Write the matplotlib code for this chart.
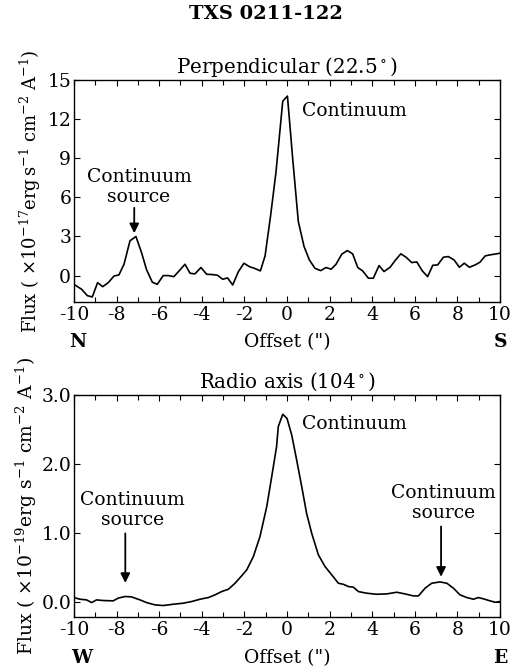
import matplotlib
matplotlib.use("Agg")
import matplotlib.pyplot as plt
import matplotlib.transforms as mtransforms

plt.rcParams["font.family"] = "DejaVu Serif"
plt.rcParams["mathtext.fontset"] = "dejavuserif"
plt.rcParams["axes.unicode_minus"] = False

# Perpendicular slit (22.5 deg)
perp_x = [-10.0, -9.64, -9.37, -9.14, -8.89, -8.65, -8.39, -8.12, -7.89, -7.65,
          -7.37, -7.09, -6.82, -6.59, -6.32, -6.09, -5.81, -5.57, -5.31, -5.02,
          -4.79, -4.55, -4.32, -4.04, -3.77, -3.5, -3.27, -3.02, -2.79, -2.55,
          -2.28, -2.02, -1.77, -1.5, -1.25, -1.03, -0.77, -0.52, -0.2, 0.02,
          0.27, 0.53, 0.8, 1.05, 1.31, 1.58, 1.83, 2.07, 2.3, 2.57,
          2.83, 3.08, 3.32, 3.55, 3.82, 4.05, 4.32, 4.55, 4.84, 5.07,
          5.34, 5.59, 5.85, 6.09, 6.35, 6.6, 6.84, 7.07, 7.34, 7.57,
          7.84, 8.09, 8.32, 8.56, 8.83, 9.06, 9.3, 9.53, 9.77, 10.0]
perp_flux = [-0.67, -1.05, -1.54, -1.64, -0.54, -0.85, -0.54, -0.03, 0.05, 0.87,
             2.67, 3.0, 1.72, 0.44, -0.51, -0.67, 0.0, 0.0, -0.08, 0.44,
             0.87, 0.18, 0.13, 0.62, 0.1, 0.08, 0.03, -0.28, -0.18, -0.72,
             0.31, 0.95, 0.69, 0.54, 0.36, 1.51, 4.6, 7.9, 13.38, 13.77,
             8.9, 4.15, 2.23, 1.2, 0.56, 0.38, 0.62, 0.49, 0.87, 1.64,
             1.92, 1.67, 0.62, 0.36, -0.2, -0.2, 0.77, 0.31, 0.64, 1.15,
             1.67, 1.41, 1.0, 1.05, 0.36, -0.08, 0.79, 0.82, 1.41, 1.46,
             1.2, 0.64, 0.95, 0.64, 0.82, 1.03, 1.51, 1.59, 1.65, 1.72]

# Radio axis slit (104 deg)
radio_x = [-10.0, -9.72, -9.41, -9.17, -8.94, -8.63, -8.16, -7.92, -7.6, -7.3,
           -6.9, -6.59, -6.2, -5.81, -5.34, -4.87, -4.48, -4.08, -3.69, -3.38,
           -3.07, -2.75, -2.44, -2.13, -1.89, -1.58, -1.27, -0.95, -0.72, -0.49,
           -0.41, -0.2, 0.0, 0.22, 0.45, 0.69, 0.92, 1.16, 1.47, 1.78,
           2.1, 2.41, 2.65, 2.88, 3.12, 3.35, 3.74, 4.21, 4.68, 5.15,
           5.54, 5.93, 6.17, 6.48, 6.79, 7.18, 7.5, 7.81, 8.12, 8.44,
           8.75, 8.98, 9.22, 9.53, 9.77, 10.0]
radio_flux = [0.058, 0.034, 0.024, -0.015, 0.024, 0.015, 0.01, 0.05, 0.073, 0.068,
              0.024, -0.015, -0.048, -0.058, -0.039, -0.024, 0.0, 0.034, 0.058, 0.097,
              0.145, 0.179, 0.266, 0.373, 0.46, 0.653, 0.943, 1.38, 1.81, 2.25,
              2.54, 2.72, 2.66, 2.42, 2.06, 1.67, 1.28, 0.99, 0.68, 0.51,
              0.387, 0.266, 0.25, 0.218, 0.208, 0.145, 0.121, 0.106, 0.111, 0.135,
              0.111, 0.082, 0.082, 0.194, 0.266, 0.285, 0.266, 0.194, 0.097, 0.058,
              0.034, 0.058, 0.039, 0.01, -0.01, 0.0]

xticks = [-10, -8, -6, -4, -2, 0, 2, 4, 6, 8, 10]
perp_yticks = [0, 3, 6, 9, 12, 15]
radio_yticks = [0.0, 1.0, 2.0, 3.0]

fig = plt.figure(figsize=(5.32, 6.68), dpi=100)
ax1 = fig.add_axes([0.139, 0.5484, 0.801, 0.3318])
ax2 = fig.add_axes([0.139, 0.0768, 0.801, 0.3319])

fig.text(0.5, 0.979, "TXS 0211-122", ha="center", va="center",
         fontsize=14, fontweight="bold")


def style(ax, yticks, ylabels):
    ax.set_xlim(-10, 10)
    ax.set_xticks(xticks)
    ax.set_xticklabels([str(t) for t in xticks])
    ax.set_xticks(range(-9, 10, 2), minor=True)
    ax.set_yticks(yticks)
    ax.set_yticklabels(ylabels)
    ax.tick_params(which="both", direction="in", top=True, right=True,
                   labelsize=13.5, width=0.8)
    ax.tick_params(which="major", length=4.5)
    ax.tick_params(which="minor", length=3.5)
    ax.tick_params(axis="x", pad=3)
    ax.tick_params(axis="y", pad=2)
    for s in ax.spines.values():
        s.set_linewidth(1.0)
    ax.set_xlabel('Offset (")', fontsize=13.5, labelpad=7)


# top panel
ax1.plot(perp_x, perp_flux, color="black", lw=1.2)
ax1.set_ylim(-2, 15)
style(ax1, perp_yticks, [str(t) for t in perp_yticks])
ax1.set_title(r"Perpendicular (22.5$^\circ$)", fontsize=14.3, pad=5)
ax1.set_ylabel(r"Flux ( $\times10^{-17}$erg$\,$s$^{-1}$ cm$^{-2}$ A$^{-1}$)",
               fontsize=13.0, labelpad=3)
ax1.text(0.7, 12.6, "Continuum", fontsize=13.5, va="center", ha="left")
ax1.text(-6.95, 6.8, "Continuum\nsource", fontsize=13.5, ha="center",
         va="center", linespacing=1.1)
ax1.annotate("", xy=(-7.17, 3.25), xytext=(-7.17, 5.2),
             arrowprops=dict(arrowstyle="-|>", color="black", lw=1.3,
                             mutation_scale=14, shrinkA=0, shrinkB=0))
trans1 = mtransforms.blended_transform_factory(ax1.transData, ax1.transAxes)
ax1.text(-9.84, -0.18, "N", transform=trans1, ha="center", va="center",
         fontsize=13.5, fontweight="bold")
ax1.text(10.0, -0.18, "S", transform=trans1, ha="center", va="center",
         fontsize=13.5, fontweight="bold")

# bottom panel
ax2.plot(radio_x, radio_flux, color="black", lw=1.2)
ax2.set_ylim(-0.22, 3.0)
style(ax2, radio_yticks, ["%.1f" % t for t in radio_yticks])
ax2.set_title(r"Radio axis (104$^\circ$)", fontsize=14.3, pad=5)
ax2.set_ylabel(r"Flux ( $\times10^{-19}$erg s$^{-1}$ cm$^{-2}$ A$^{-1}$)",
               fontsize=13.5, labelpad=2)
ax2.text(0.7, 2.58, "Continuum", fontsize=13.5, va="center", ha="left")
ax2.text(-7.25, 1.33, "Continuum\nsource", fontsize=13.5, ha="center",
         va="center", linespacing=1.1)
ax2.annotate("", xy=(-7.59, 0.27), xytext=(-7.59, 0.99),
             arrowprops=dict(arrowstyle="-|>", color="black", lw=1.3,
                             mutation_scale=14, shrinkA=0, shrinkB=0))
ax2.text(7.34, 1.43, "Continuum\nsource", fontsize=13.5, ha="center",
         va="center", linespacing=1.1)
ax2.annotate("", xy=(7.23, 0.36), xytext=(7.23, 1.09),
             arrowprops=dict(arrowstyle="-|>", color="black", lw=1.3,
                             mutation_scale=14, shrinkA=0, shrinkB=0))
trans2 = mtransforms.blended_transform_factory(ax2.transData, ax2.transAxes)
ax2.text(-9.64, -0.188, "W", transform=trans2, ha="center", va="center",
         fontsize=13.5, fontweight="bold")
ax2.text(10.0, -0.188, "E", transform=trans2, ha="center", va="center",
         fontsize=13.5, fontweight="bold")

fig.savefig("out.png", dpi=100)
